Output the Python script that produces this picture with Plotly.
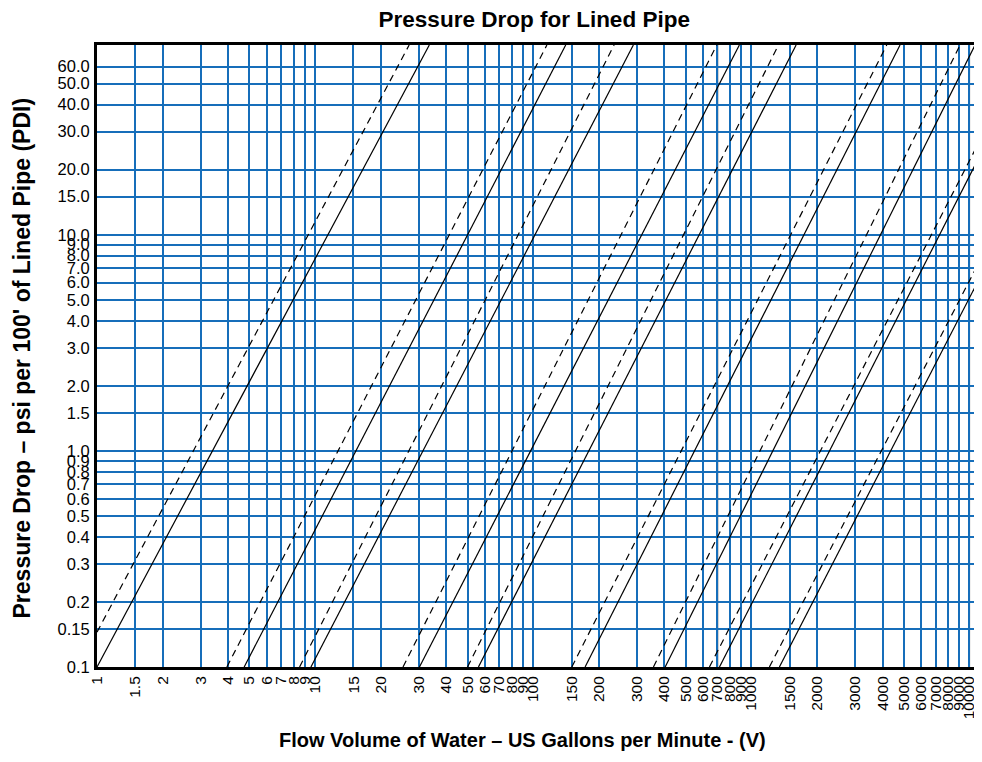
import plotly.graph_objects as go

# ---- tick values / labels ----
x_ticks = [1, 1.5, 2, 3, 4, 5, 6, 7, 8, 9, 10, 15, 20, 30, 40, 50, 60, 70, 80, 90,
           100, 150, 200, 300, 400, 500, 600, 700, 800, 900, 1000, 1500, 2000, 3000,
           4000, 5000, 6000, 7000, 8000, 9000, 10000]
x_ticktext = ["1", "1.5", "2", "3", "4", "5", "6", "7", "8", "9", "10", "15", "20", "30",
              "40", "50", "60", "70", "80", "90", "100", "150", "200", "300", "400", "500",
              "600", "700", "800", "900", "1000", "1500", "2000", "3000", "4000", "5000",
              "6000", "7000", "8000", "9000", "10000"]
y_ticks = [0.1, 0.15, 0.2, 0.3, 0.4, 0.5, 0.6, 0.7, 0.8, 0.9, 1.0, 1.5, 2.0, 3.0, 4.0,
           5.0, 6.0, 7.0, 8.0, 9.0, 10.0, 15.0, 20.0, 30.0, 40.0, 50.0, 60.0]
y_ticktext = ["0.1", "0.15", "0.2", "0.3", "0.4", "0.5", "0.6", "0.7", "0.8", "0.9", "1.0",
              "1.5", "2.0", "3.0", "4.0", "5.0", "6.0", "7.0", "8.0", "9.0", "10.0", "15.0",
              "20.0", "30.0", "40.0", "50.0", "60.0"]
dark_grid_x = [700, 10000]

# ---- line endpoints (flow gpm, psi/100ft) ----
solid_x0 = [1.0, 4.73, 9.57, 30.1, 56.1, 173, 403, 715, 1346]
solid_y0 = [0.1, 0.1, 0.1, 0.1, 0.1, 0.1, 0.1, 0.1, 0.1]
solid_x1 = [33.4, 141, 288, 882, 1606, 4812, 10620, 10620, 10620]
solid_y1 = [75.5, 75.5, 75.5, 75.5, 75.5, 75.5, 75.5, 21.0, 5.73]

dashed_x0 = [1.0, 3.94, 8.49, 25.3, 50.0, 150.4, 356, 643, 1211]
dashed_y0 = [0.145, 0.1, 0.1, 0.1, 0.1, 0.1, 0.1, 0.1, 0.1]
dashed_x1 = [27.0, 115.6, 235, 695, 1332, 4182, 9066, 10620, 10620]
dashed_y1 = [75.5, 75.5, 75.5, 75.5, 75.5, 75.5, 75.5, 24.7, 6.87]

FONT = "Arial, Liberation Sans, Helvetica, sans-serif"
GRID = "rgb(22,110,186)"

fig = go.Figure()


def seg_lists(x0, y0, x1, y1):
    xs, ys = [], []
    for a, b, c, d in zip(x0, y0, x1, y1):
        xs += [a, c, None]
        ys += [b, d, None]
    return xs, ys


sx, sy = seg_lists(solid_x0, solid_y0, solid_x1, solid_y1)
dx, dy = seg_lists(dashed_x0, dashed_y0, dashed_x1, dashed_y1)

fig.add_trace(go.Scatter(x=sx, y=sy, mode="lines", showlegend=False,
                         line=dict(color="black", width=1.2), hoverinfo="skip"))
fig.add_trace(go.Scatter(x=dx, y=dy, mode="lines", showlegend=False,
                         line=dict(color="black", width=1.2, dash="7px,5px"),
                         hoverinfo="skip"))

for xv in dark_grid_x:
    fig.add_shape(type="line", xref="x", yref="paper", x0=xv, x1=xv, y0=0, y1=1,
                  line=dict(color="#3a3a3a", width=1.5), layer="below")

fig.update_xaxes(type="log", range=[0, 4.026], tickvals=x_ticks, ticktext=x_ticktext,
                 tickangle=-90, tickfont=dict(family=FONT, size=15.5, color="black"),
                 showgrid=True, gridcolor=GRID, gridwidth=1.5,
                 showline=True, linecolor="black", linewidth=3, mirror=True,
                 ticks="", ticklabelstandoff=0, zeroline=False, automargin=False)
fig.update_yaxes(type="log", range=[-1, 1.878], tickvals=y_ticks, ticktext=y_ticktext,
                 tickfont=dict(family=FONT, size=16.5, color="black"),
                 showgrid=True, gridcolor=GRID, gridwidth=1.5,
                 showline=True, linecolor="black", linewidth=3, mirror=True,
                 ticks="", ticklabelstandoff=1, zeroline=False, automargin=False)

# page body has an 8px margin, so the figure is offset by 8px
fig.update_layout(
    width=982, height=762,
    margin=dict(l=89, r=15, t=37, b=103, autoexpand=False),
    plot_bgcolor="white", paper_bgcolor="white",
    title=dict(text="<b>Pressure Drop for Lined Pipe</b>", x=0.498, xanchor="center",
               xref="paper", yref="container", y=1 - 11 / 762, yanchor="middle",
               automargin=False,
               font=dict(family=FONT, size=22.5, color="black")),
    annotations=[
        dict(text="<b>Flow Volume of Water – US Gallons per Minute - (V)</b>",
             xref="paper", yref="paper", x=0.485, y=-0.118, showarrow=False,
             xanchor="center", yanchor="middle",
             font=dict(family=FONT, size=20, color="black")),
        dict(text="<b>Pressure Drop – psi per 100' of Lined Pipe (PDI)</b>",
             xref="paper", yref="paper", x=-0.085, y=0.4966, showarrow=False,
             xanchor="center", yanchor="middle", textangle=-90,
             font=dict(family=FONT, size=23, color="black")),
    ],
)

fig.write_html("out.html")
